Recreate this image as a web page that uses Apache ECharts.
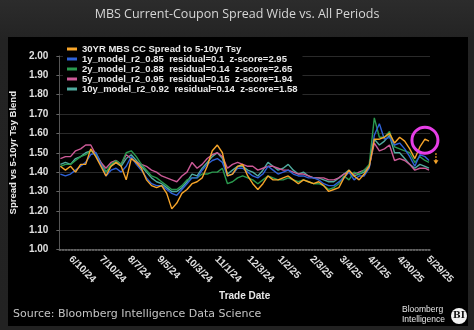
<!DOCTYPE html>
<html><head><meta charset="utf-8">
<script src="https://cdn.jsdelivr.net/npm/echarts@6/dist/echarts.min.js"></script>
<style>html,body{margin:0;padding:0;width:474px;height:330px;overflow:hidden;background:#262626}</style>
</head><body>
<div style="position:absolute;left:0;top:0;width:474px;height:330px;background:linear-gradient(#2c2c2c,#232323 40px,#222)"></div>
<div style="position:absolute;left:8px;top:37px;width:460px;height:289px;background:#000"></div>
<div id="main" style="position:absolute;left:0;top:0;width:474px;height:330px"></div>
<script>
const dates = ['2024-05-31','2024-06-05','2024-06-10','2024-06-15','2024-06-20','2024-06-25','2024-06-30','2024-07-05','2024-07-10','2024-07-15',
'2024-07-20','2024-07-25','2024-07-30','2024-08-04','2024-08-09','2024-08-14','2024-08-19','2024-08-24','2024-08-29','2024-09-03',
'2024-09-08','2024-09-13','2024-09-18','2024-09-23','2024-09-28','2024-10-03','2024-10-08','2024-10-13','2024-10-18','2024-10-23',
'2024-10-28','2024-11-02','2024-11-07','2024-11-12','2024-11-17','2024-11-22','2024-11-27','2024-12-02','2024-12-07','2024-12-12',
'2024-12-17','2024-12-22','2024-12-27','2025-01-01','2025-01-06','2025-01-11','2025-01-16','2025-01-21','2025-01-26','2025-01-31',
'2025-02-05','2025-02-10','2025-02-15','2025-02-20','2025-02-25','2025-03-02','2025-03-07','2025-03-12','2025-03-17','2025-03-22',
'2025-03-27','2025-04-01','2025-04-06','2025-04-11','2025-04-16','2025-04-21','2025-04-26','2025-05-01','2025-05-06','2025-05-11',
'2025-05-16','2025-05-21','2025-05-26','2025-05-30'];

const mbsCC = [1.43,1.41,1.43,1.40,1.44,1.44,1.52,1.48,1.43,1.38,
1.43,1.45,1.43,1.36,1.47,1.45,1.42,1.36,1.33,1.32,
1.33,1.29,1.21,1.24,1.29,1.31,1.34,1.35,1.37,1.43,
1.51,1.54,1.50,1.38,1.39,1.43,1.44,1.38,1.34,1.31,
1.34,1.38,1.36,1.36,1.37,1.38,1.36,1.34,1.36,1.35,
1.34,1.35,1.33,1.30,1.31,1.32,1.37,1.41,1.38,1.36,
1.39,1.43,1.57,1.57,1.58,1.60,1.55,1.58,1.56,1.52,
1.47,1.53,1.57,1.56];

const model1y = [1.39,1.38,1.39,1.41,1.43,1.45,1.49,1.50,1.44,1.38,
1.41,1.42,1.40,1.43,1.48,1.44,1.41,1.37,1.34,1.33,
1.33,1.31,1.29,1.28,1.31,1.34,1.37,1.37,1.41,1.44,
1.46,1.47,1.45,1.38,1.39,1.42,1.42,1.40,1.38,1.37,
1.39,1.43,1.41,1.39,1.40,1.41,1.39,1.38,1.38,1.37,
1.37,1.36,1.34,1.33,1.33,1.35,1.37,1.40,1.36,1.38,
1.38,1.42,1.59,1.65,1.57,1.58,1.54,1.55,1.52,1.48,
1.43,1.49,1.48,1.46];

const model2y = [1.43,1.44,1.44,1.46,1.48,1.49,1.51,1.49,1.44,1.40,
1.44,1.46,1.44,1.50,1.51,1.48,1.44,1.41,1.38,1.37,
1.35,1.33,1.31,1.31,1.33,1.36,1.37,1.37,1.39,1.39,
1.40,1.40,1.42,1.34,1.35,1.37,1.38,1.37,1.36,1.34,
1.36,1.38,1.37,1.36,1.36,1.37,1.36,1.35,1.36,1.35,
1.34,1.34,1.33,1.31,1.32,1.34,1.38,1.36,1.40,1.39,
1.41,1.44,1.68,1.58,1.58,1.61,1.53,1.52,1.51,1.50,
1.45,1.48,1.46,1.45];

const model5y = [1.47,1.48,1.48,1.51,1.52,1.54,1.54,1.49,1.45,1.42,
1.45,1.46,1.44,1.49,1.47,1.45,1.44,1.43,1.41,1.40,
1.38,1.37,1.36,1.35,1.38,1.40,1.45,1.42,1.44,1.47,
1.49,1.50,1.48,1.42,1.44,1.45,1.44,1.43,1.43,1.41,
1.42,1.43,1.43,1.42,1.41,1.41,1.40,1.39,1.39,1.38,
1.37,1.37,1.37,1.36,1.36,1.37,1.39,1.40,1.39,1.40,
1.41,1.43,1.55,1.51,1.52,1.54,1.46,1.47,1.46,1.44,
1.41,1.42,1.42,1.41];

const model10y = [1.44,1.45,1.44,1.47,1.48,1.50,1.51,1.50,1.45,1.40,
1.43,1.45,1.43,1.47,1.49,1.46,1.43,1.40,1.37,1.35,
1.34,1.32,1.30,1.30,1.32,1.35,1.39,1.38,1.42,1.45,
1.48,1.50,1.47,1.39,1.41,1.43,1.43,1.41,1.40,1.38,
1.41,1.45,1.43,1.41,1.42,1.44,1.41,1.39,1.40,1.38,
1.37,1.37,1.36,1.35,1.35,1.37,1.39,1.41,1.38,1.39,
1.40,1.43,1.57,1.54,1.56,1.59,1.50,1.50,1.47,1.44,
1.42,1.44,1.43,1.42];

const seriesNames = ['30YR MBS CC Spread to 5-10yr Tsy',
 '1y_model_r2_0.85  residual=0.1  z-score=2.95',
 '2y_model_r2_0.88  residual=0.14  z-score=2.65',
 '5y_model_r2_0.95  residual=0.15  z-score=1.94',
 '10y_model_r2_0.92  residual=0.14  z-score=1.58'];
const seriesColors = ['#f7a52a','#2f62d8','#2a9a4e','#cc5a97','#50ab9f'];

const tickDates = ['2024-06-10','2024-07-10','2024-08-07','2024-09-05','2024-10-03','2024-11-01','2024-12-03',
'2025-01-02','2025-02-03','2025-03-04','2025-04-01','2025-04-30','2025-05-29'];
const tickLabels = ['6/10/24','7/10/24','8/7/24','9/5/24','10/3/24','11/1/24','12/3/24',
'1/2/25','2/3/25','3/4/25','4/1/25','4/30/25','5/29/25'];

const annotationPoint = ['2025-05-26', 1.565];

function ts(s){const p=s.split('-').map(Number);return Date.UTC(p[0],p[1]-1,p[2]);}
const tickTs = tickDates.map(ts);

const allValues = [mbsCC, model1y, model2y, model5y, model10y];
const series = allValues.map((vals,k)=>({
  name: seriesNames[k], type:'line', showSymbol:false, symbol:'none',
  data: dates.map((d,i)=>[ts(d), vals[i]]),
  lineStyle:{width:1.4, color:seriesColors[k]}, itemStyle:{color:seriesColors[k]},
  z: k===0 ? 10 : 6-k
}));

const chart = echarts.init(document.getElementById('main'), null, {renderer:'canvas'});
const bold = {fontFamily:'Liberation Sans', fontWeight:'bold'};
const staticGraphics = [
  {type:'text', left:13, top:309, style:{text:'Source: Bloomberg Intelligence Data Science', fill:'#c4c4c4', fontSize:11, fontFamily:'DejaVu Sans'}},
  {type:'text', right:29, top:305, style:{text:'Bloomberg\nIntelligence', fill:'#e6e6e6', fontSize:8.5, lineHeight:9.5, fontFamily:'Liberation Sans', align:'left'}},
  {type:'circle', shape:{cx:459, cy:316, r:8}, style:{fill:'#f2f2f2'}},
  {type:'text', x:459, y:316, style:{text:'BI', fill:'#111', fontSize:9, fontWeight:'bold', fontFamily:'DejaVu Serif', align:'center', verticalAlign:'middle'}}
];
chart.setOption({
  animation:false,
  backgroundColor:'transparent',
  title:{text:'MBS Current-Coupon Spread Wide vs. All Periods', left:'center', top:3,
    textStyle:{color:'#d6d6d6', fontSize:12.5, fontWeight:'normal', fontFamily:'Open Sans'}},
  grid:{left:58, right:44, top:56, bottom:80.5},
  legend:{data:seriesNames, orient:'vertical', left:63, top:42, padding:[2,5,2,4], itemGap:0,
    itemWidth:10, itemHeight:3, icon:'rect', backgroundColor:'#000',
    textStyle:Object.assign({color:'#e8e8e8', fontSize:9.5, lineHeight:10}, bold)},
  xAxis:{type:'value', min:ts('2024-05-30'), max:ts('2025-05-31'), scale:true,
    name:'Trade Date', nameLocation:'middle', nameGap:42,
    nameTextStyle:Object.assign({color:'#e8e8e8', fontSize:10}, bold),
    axisLine:{lineStyle:{color:'#777', type:'dotted', width:1.5}},
    axisTick:{show:false},
    splitLine:{show:false},
    axisLabel:{customValues:tickTs, rotate:-45, margin:8, color:'#e0e0e0', fontSize:10, fontFamily:'Liberation Sans', fontWeight:'bold',
      formatter:function(v){let best=0,bd=Infinity;tickTs.forEach((t,i)=>{const d=Math.abs(t-v);if(d<bd){bd=d;best=i;}});return tickLabels[best];}}
  },
  yAxis:{type:'value', min:1, max:2, interval:0.1,
    name:'Spread vs 5-10yr Tsy Blend', nameLocation:'middle', nameGap:38, nameRotate:90,
    nameTextStyle:Object.assign({color:'#e8e8e8', fontSize:9.5}, bold),
    axisLine:{show:true, lineStyle:{color:'#555'}},
    axisTick:{show:true, length:3, lineStyle:{color:'#666'}},
    splitLine:{lineStyle:{color:'#2a2a2a', width:1}},
    axisLabel:Object.assign({color:'#e0e0e0', fontSize:10, margin:11, formatter:v=>v.toFixed(2)}, bold)
  },
  series: series,
  graphic: staticGraphics
});
const c = chart.convertToPixel({gridIndex:0}, [ts(annotationPoint[0]), annotationPoint[1]]);
chart.setOption({graphic: staticGraphics.concat([
  {type:'circle', shape:{cx:c[0], cy:c[1], r:13}, style:{fill:'none', stroke:'#e63ee6', lineWidth:3}, z:100},
  {type:'line', shape:{x1:c[0]+11, y1:c[1]+13, x2:c[0]+11, y2:c[1]+21}, style:{stroke:'#f7a52a', lineWidth:1.5, lineDash:[1.5,1.5]}, z:100},
  {type:'polygon', shape:{points:[[c[0]+8.5,c[1]+20],[c[0]+13.5,c[1]+20],[c[0]+11,c[1]+24]]}, style:{fill:'#f7a52a'}, z:100}
])}, {replaceMerge:['graphic']});
</script>
</body></html>
